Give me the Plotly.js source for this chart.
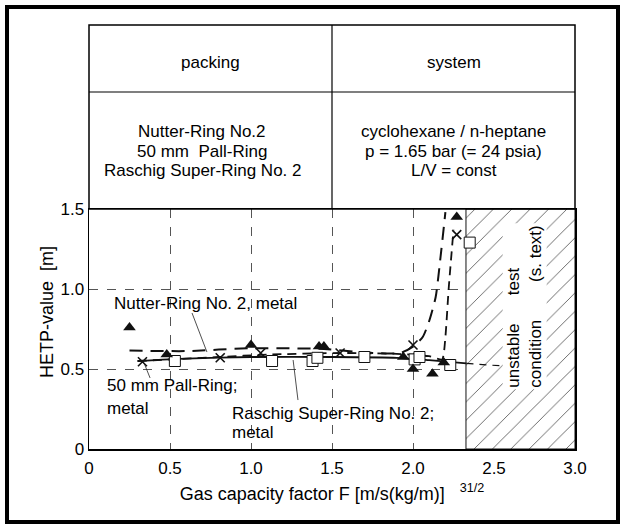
<!DOCTYPE html>
<html>
<head>
<meta charset="utf-8">
<script src="https://cdn.plot.ly/plotly-3.0.1.min.js"></script>
<style>html,body{margin:0;padding:0;background:#fff;}#chart{width:623px;height:525px;}</style>
</head>
<body>
<div id="chart"></div>
<script>
// ---- data ----
const xTickVals = [0, 0.5, 1.0, 1.5, 2.0, 2.5, 3.0];
const xTickText = ['0', '0.5', '1.0', '1.5', '2.0', '2.5', '3.0'];
const yTickVals = [0, 0.5, 1.0, 1.5];
const yTickText = ['0', '0.5', '1.0', '1.5'];

// Nutter-Ring No. 2, metal (filled triangles)
const nutterX = [0.25, 0.48, 1.0, 1.42, 1.45, 1.94, 2.0, 2.12, 2.19, 2.27];
const nutterY = [0.76, 0.59, 0.65, 0.64, 0.64, 0.575, 0.5, 0.47, 0.54, 1.45];
// 50 mm Pall-Ring, metal (crosses)
const pallX = [0.33, 0.81, 1.06, 1.55, 2.0, 2.27];
const pallY = [0.545, 0.57, 0.6, 0.6, 0.65, 1.34];
// Raschig Super-Ring No. 2, metal (open squares)
const superX = [0.53, 1.13, 1.38, 1.41, 1.70, 2.01, 2.04, 2.23, 2.35];
const superY = [0.55, 0.55, 0.55, 0.57, 0.575, 0.56, 0.575, 0.525, 1.29];

// fitted curves
const nutterCurveX = [0.25, 0.6, 1.0, 1.45, 1.75, 1.92, 2.0, 2.06, 2.1, 2.14, 2.17, 2.2];
const nutterCurveY = [0.615, 0.612, 0.63, 0.625, 0.6, 0.6, 0.64, 0.7, 0.8, 0.95, 1.2, 1.48];
const pallCurveX = [0.3, 0.5, 0.8, 1.1, 1.55, 1.9, 2.1, 2.18, 2.2, 2.22, 2.25];
const pallCurveY = [0.55, 0.56, 0.575, 0.59, 0.6, 0.595, 0.58, 0.56, 0.7, 1.0, 1.37];
const superCurveX = [0.3, 0.6, 1.0, 1.5, 1.9, 2.1, 2.33];
const superCurveY = [0.55, 0.565, 0.575, 0.575, 0.57, 0.555, 0.535];
const superExtX = [2.33, 2.54];
const superExtY = [0.535, 0.52];

// unstable region
const unstableFrom = 2.327;
const unstableTo = 3.0;
const unstableTop = 1.5;

// label leader lines [x0, y0, x1, y1]
const leaderNutter = [0.636, 0.85, 0.728, 0.606];
const leaderPall = [0.377, 0.444, 0.34, 0.537];
const leaderSuper = [1.29, 0.306, 1.26, 0.556];

const FONT = 'Liberation Sans, Arial, sans-serif';
const FS = 17;
const NB = n => '\u00a0'.repeat(n);

const traces = [
  {
    type: 'bar', x: [(unstableFrom + unstableTo) / 2], y: [unstableTop], base: 0,
    width: [unstableTo - unstableFrom],
    marker: {color: 'white', line: {color: '#111', width: 1},
      pattern: {shape: '/', fgcolor: '#444', bgcolor: 'white', size: 13, solidity: 0.06}},
    hoverinfo: 'skip', showlegend: false
  },
  {type: 'scatter', mode: 'lines', x: nutterCurveX, y: nutterCurveY,
    line: {color: '#111', width: 2, dash: '13px,8px', shape: 'spline', smoothing: 0.6}, showlegend: false},
  {type: 'scatter', mode: 'lines', x: pallCurveX, y: pallCurveY,
    line: {color: '#111', width: 1.8, dash: '9px,6px', shape: 'spline', smoothing: 0.5}, showlegend: false},
  {type: 'scatter', mode: 'lines', x: superCurveX, y: superCurveY,
    line: {color: '#111', width: 1.8, shape: 'spline', smoothing: 0.6}, showlegend: false},
  {type: 'scatter', mode: 'lines', x: superExtX, y: superExtY,
    line: {color: '#111', width: 1.2, dash: '7px,6px'}, showlegend: false},
  {type: 'scatter', mode: 'markers', x: superX, y: superY,
    marker: {symbol: 'square', size: 11, color: 'white', line: {color: '#111', width: 1}}, showlegend: false},
  {type: 'scatter', mode: 'markers', x: pallX, y: pallY,
    marker: {symbol: 'x-thin-open', size: 9, color: '#111', line: {color: '#111', width: 1.6}}, showlegend: false},
  {type: 'scatter', mode: 'markers', x: nutterX, y: nutterY,
    marker: {symbol: 'triangle-up', size: 11, color: '#111', line: {width: 0}}, showlegend: false}
];

// pixel helpers for paper coordinates (plot area 89..575 x 209..449)
const L = 89, R = 575, T = 209, B = 449;
const px = v => (v - L) / (R - L);
const py = v => (B - v) / (B - T);

const shapes = [
  // outer frame
  {type: 'rect', xref: 'paper', yref: 'paper', x0: px(7), x1: px(618), y0: py(522), y1: py(7),
    line: {color: '#000', width: 4}},
  // table
  {type: 'rect', xref: 'paper', yref: 'paper', x0: 0, x1: 1, y0: 1, y1: py(25), line: {color: '#000', width: 1.5}},
  {type: 'line', xref: 'paper', yref: 'paper', x0: 0, x1: 1, y0: py(92), y1: py(92), line: {color: '#000', width: 1.2}},
  {type: 'line', xref: 'paper', yref: 'paper', x0: 0.5, x1: 0.5, y0: 1, y1: py(25), line: {color: '#000', width: 1.2}},
  // leader lines
  ...[leaderNutter, leaderPall, leaderSuper].map(l => ({type: 'line', xref: 'x', yref: 'y',
    x0: l[0], y0: l[1], x1: l[2], y1: l[3], line: {color: '#222', width: 0.8}}))
];

const ann = (text, x, y, extra) => Object.assign({text, x, y, xref: 'x', yref: 'y', showarrow: false,
  xanchor: 'left', font: {family: FONT, size: FS, color: '#000'}}, extra || {});
const pann = (text, x, y, extra) => Object.assign({text, x, y, xref: 'paper', yref: 'paper', showarrow: false,
  xanchor: 'center', yanchor: 'middle', font: {family: FONT, size: FS, color: '#000'}}, extra || {});

const annotations = [
  ann('Nutter-Ring No. 2, metal', 0.142, 0.9125),
  ann('50 mm Pall-Ring;', 0.099, 0.40),
  ann('metal', 0.099, 0.256),
  ann('Raschig Super-Ring No. 2;', 0.87, 0.225),
  ann('metal', 0.87, 0.105),
  ann('unstable' + NB(6) + 'test<br>condition' + NB(8) + '(s. text)', 2.688, 0.37,
    {xanchor: 'center', yanchor: 'bottom', textangle: -90, align: 'left', bgcolor: 'white'}),
  pann('packing', 0.25, py(62)),
  pann('system', 0.75, py(62)),
  pann('Nutter-Ring No.2', 0.233, py(131)),
  pann('50 mm' + NB(2) + 'Pall-Ring', 0.233, py(151)),
  pann('Raschig Super-Ring No. 2', 0.233, py(171)),
  pann('cyclohexane / n-heptane', 0.75, py(131)),
  pann('p = 1.65 bar (= 24 psia)', 0.75, py(151)),
  pann('L/V = const', 0.75, py(171)),
  // y-axis title, placed where the reference has it (above the axis centre)
  pann('HETP-value' + NB(2) + '[m]', px(47), py(312), {textangle: -90, font: {family: FONT, size: 18, color: '#000'}})
];

const layout = {
  width: 623, height: 525,
  margin: {l: L, r: 623 - R, t: T, b: 525 - B},
  paper_bgcolor: 'white', plot_bgcolor: 'white',
  font: {family: FONT, size: FS, color: '#000'},
  showlegend: false,
  xaxis: {
    range: [0, 3], tickvals: xTickVals, ticktext: xTickText, ticks: '',
    showgrid: true, gridcolor: '#555', gridwidth: 1, griddash: 'dash', zeroline: false,
    showline: true, mirror: true, linecolor: '#000', linewidth: 1.5,
    tickfont: {family: FONT, size: FS}, ticklabelstandoff: 3,
    title: {text: 'Gas capacity factor F [m/s(kg/m)]' + NB(3) + '<sup>31/2</sup>', font: {family: FONT, size: 18}, standoff: 10}
  },
  yaxis: {
    range: [0, 1.5], tickvals: yTickVals, ticktext: yTickText, ticks: '',
    showgrid: true, gridcolor: '#555', gridwidth: 1, griddash: 'dash', zeroline: false,
    showline: true, mirror: true, linecolor: '#000', linewidth: 1.5,
    tickfont: {family: FONT, size: FS}
  },
  shapes, annotations
};

Plotly.newPlot('chart', traces, layout, {displayModeBar: false, staticPlot: true});
</script>
</body>
</html>
